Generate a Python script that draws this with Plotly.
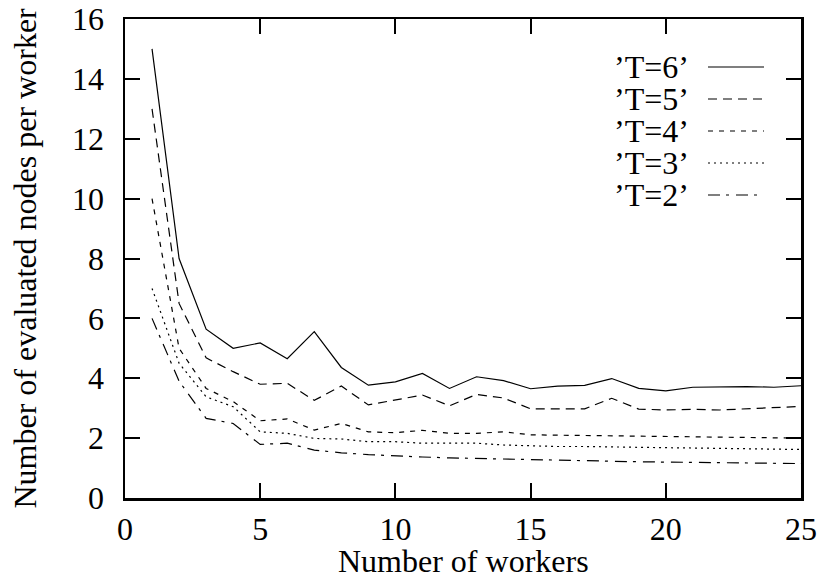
import plotly.graph_objects as go

workers = list(range(1, 26))

t6 = [15.0, 8.0, 5.64, 5.0, 5.18, 4.65, 5.56, 4.36, 3.77, 3.88, 4.16, 3.66, 4.05,
      3.92, 3.65, 3.74, 3.76, 3.99, 3.66, 3.58, 3.70, 3.72, 3.72, 3.70, 3.75]
t5 = [13.0, 6.5, 4.68, 4.22, 3.80, 3.83, 3.26, 3.74, 3.11, 3.27, 3.44, 3.08, 3.46,
      3.34, 2.98, 2.98, 2.98, 3.33, 2.97, 2.94, 2.96, 2.94, 2.98, 3.03, 3.06]
t4 = [10.0, 5.0, 3.66, 3.22, 2.58, 2.64, 2.27, 2.49, 2.21, 2.18, 2.26, 2.16, 2.16,
      2.21, 2.11, 2.10, 2.09, 2.08, 2.07, 2.05, 2.05, 2.04, 2.03, 2.02, 2.00]
t3 = [7.0, 4.5, 3.38, 3.05, 2.21, 2.16, 1.99, 1.97, 1.88, 1.88, 1.83, 1.83, 1.83,
      1.77, 1.74, 1.72, 1.72, 1.70, 1.70, 1.68, 1.67, 1.66, 1.65, 1.63, 1.62]
t2 = [6.0, 3.9, 2.66, 2.49, 1.79, 1.83, 1.60, 1.51, 1.45, 1.40, 1.37, 1.34, 1.32,
      1.30, 1.27, 1.25, 1.24, 1.22, 1.21, 1.20, 1.19, 1.18, 1.17, 1.16, 1.15]

labels = ["’T=6’", "’T=5’", "’T=4’", "’T=3’", "’T=2’"]
series = [t6, t5, t4, t3, t2]
dashes = ["solid", "9px,6px", "5px,6px", "2px,4px", "12px,6px,3px,7px"]

x_title = "Number of workers"
y_title = "Number of evaluated nodes per worker"

FONT = "Liberation Serif, Times New Roman, serif"
FS = 32

W, H = 818, 581
# plot area in window pixels
L, R, T, B = 125, 801, 19, 498
PW, PH = R - L, B - T

fig = go.Figure()
for lab, ys, d in zip(labels, series, dashes):
    fig.add_trace(go.Scatter(x=workers, y=ys, mode="lines", name=lab,
                             line=dict(color="black", width=1.2, dash=d),
                             showlegend=False))

# gnuplot-style key: text on the left, line sample on the right
for i, (lab, d) in enumerate(zip(labels, dashes)):
    py = 67 + 32 * i
    yy = (B - py) / PH
    fig.add_annotation(x=(690 - L) / PW, y=yy, xref="paper", yref="paper",
                       text=lab, showarrow=False, xanchor="right", yanchor="middle",
                       height=30, borderpad=0,
                       font=dict(family=FONT, size=FS, color="black"))
    fig.add_shape(type="line", xref="paper", yref="paper",
                  x0=(708 - L) / PW, x1=(764 - L) / PW, y0=yy, y1=yy,
                  line=dict(color="black", width=1.2, dash=d))

# axis titles
fig.add_annotation(x=0.5, y=(B - 561) / PH, xref="paper", yref="paper",
                   text=x_title, showarrow=False, xanchor="center", yanchor="middle",
                   font=dict(family=FONT, size=FS, color="black"))
fig.add_annotation(x=(24 - L) / PW, y=0.5, xref="paper", yref="paper",
                   text=y_title, showarrow=False, xanchor="center", yanchor="middle",
                   textangle=-90,
                   font=dict(family=FONT, size=FS, color="black"))

axis_common = dict(showline=True, linewidth=2.5, linecolor="black", mirror="ticks",
                   ticks="inside", ticklen=15, tickwidth=2, tickcolor="black",
                   showgrid=False, zeroline=False, automargin=False,
                   ticklabeloverflow="allow",
                   tickfont=dict(family=FONT, size=FS, color="black"))

fig.update_xaxes(range=[0, 25], tickvals=[0, 5, 10, 15, 20, 25],
                 ticklabelstandoff=1, **axis_common)
fig.update_yaxes(range=[0, 16], tickvals=list(range(0, 17, 2)),
                 ticklabelstandoff=12, **axis_common)

fig.update_layout(width=W, height=H, plot_bgcolor="white", paper_bgcolor="white",
                  margin=dict(l=L, r=W - R, t=T, b=H - B),
                  showlegend=False, hovermode=False)

fig.write_html("out.html",
               config={"displayModeBar": False, "staticPlot": True},
               post_script="document.body.style.margin='0';"
                           "document.body.style.overflow='hidden';")
